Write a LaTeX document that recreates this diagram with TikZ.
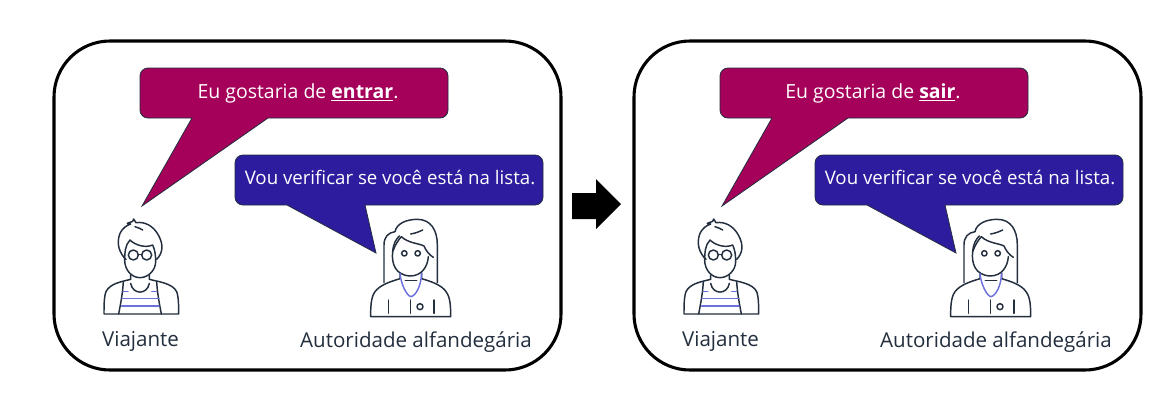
\documentclass[tikz,border=0pt]{standalone}
\usepackage{fontspec}
\setmainfont{Open Sans}
\definecolor{bubmag}{HTML}{A5005A}
\definecolor{bubblue}{HTML}{2D1C9E}
\definecolor{ink}{HTML}{232F3E}
\definecolor{stripe}{HTML}{6B70DC}
\newcommand{\ulbold}[1]{\vtop{\hbox{\bfseries #1}\kern1.1pt\hrule height 1.3pt}}
\tikzset{
  panel/.style={draw=black,line width=2.3pt,rounded corners=42pt},
  bubmagenta/.style={fill=bubmag,draw=ink,line width=0.6pt,line join=miter},
  bubindigo/.style={fill=bubblue,draw=ink,line width=0.6pt,line join=miter},
  asktext/.style={text=white,font=\fontsize{14.6pt}{17pt}\selectfont,inner sep=0pt,anchor=base},
  replytext/.style={text=white,font=\fontsize{14pt}{17pt}\selectfont,inner sep=0pt,anchor=base},
  caption/.style={text=ink,font=\fontsize{15.4pt}{18pt}\selectfont,inner sep=0pt,anchor=base},
  figline/.style={draw=ink,line width=1.1pt,line cap=round,line join=round},
  figblue/.style={draw=stripe,line width=1.1pt,line cap=round,line join=round},
}
\newcommand{\traveler}[2]{%
\begin{scope}[shift={(#1,#2)},x=0.25pt,y=-0.25pt]
 \draw[figline] (108,178) .. controls (88,160) and (78,130) .. (90,100) .. controls (97,85) and (110,76) .. (122,72) -- (112,70) -- (128,64) -- (131,57) -- (138,68) .. controls (165,64) and (190,78) .. (205,105) .. controls (222,135) and (218,160) .. (200,178);
 \draw[figline] (135,80) .. controls (145,83) and (152,86) .. (158,90);
 \draw[figline] (104,180) .. controls (104,160) and (105,135) .. (120,120) .. controls (135,135) and (165,145) .. (188,135) .. controls (195,150) and (197,165) .. (197,185);
 \draw[figline] (104,180) .. controls (104,210) and (125,233) .. (150,233) .. controls (175,233) and (197,210) .. (197,185);
 \draw[figline] (130,165) circle[radius=15];
 \draw[figline] (170,165) circle[radius=15];
 \draw[figline] (145,163) -- (155,163);
 \draw[figline] (122,225) -- (122,238) .. controls (95,245) and (60,250) .. (48,275) .. controls (42,290) and (42,320) .. (42,342) -- (266,342) .. controls (266,320) and (266,290) .. (260,275) .. controls (248,250) and (205,245) .. (178,238) -- (178,225);
 \draw[figline] (100,245) .. controls (98,280) and (92,310) .. (86,342);
 \draw[figline] (200,245) .. controls (202,280) and (208,310) .. (214,342);
 \draw[figline] (122,250) .. controls (128,285) and (172,285) .. (178,250);
 \draw[figblue] (99,275) -- (114,275) (185,275) -- (199,275) (96,296) -- (207,296) (95,318) -- (207,318);
\end{scope}}
\newcommand{\officer}[2]{%
\begin{scope}[shift={(#1,#2)},x=0.25pt,y=-0.25pt]
 \draw[figline] (72,218) -- (72,105) .. controls (72,80) and (85,68) .. (105,65) .. controls (110,40) and (140,28) .. (172,28) .. controls (212,28) and (232,60) .. (232,105) -- (232,218);
 \draw[figline] (152,72) .. controls (165,70) and (178,65) .. (188,60);
 \draw[figline] (118,78) .. controls (108,88) and (100,100) .. (98,125) .. controls (94,160) and (105,195) .. (150,198) .. controls (185,198) and (203,170) .. (205,140);
 \draw[figline] (98,125) .. controls (105,105) and (115,90) .. (124,80) .. controls (145,100) and (178,100) .. (192,108) .. controls (198,122) and (208,135) .. (220,142);
 \draw[figline] (133,130) circle[radius=8];
 \draw[figline] (173,130) circle[radius=8];
 \draw[figline] (120,188) -- (120,206) .. controls (90,215) and (60,225) .. (45,245) .. controls (32,262) and (32,295) .. (32,320) -- (272,320) .. controls (272,295) and (272,262) .. (258,245) .. controls (245,225) and (215,215) .. (185,206) -- (185,188);
 \draw[figblue] (120,190) .. controls (122,220) and (140,258) .. (153,260) .. controls (170,255) and (183,225) .. (185,190);
 \draw[figline] (136,212) -- (170,212);
 \draw[figline] (85,270) -- (85,310) (152,270) -- (152,310) (222,270) -- (222,310);
 \draw[figline] (180,290) circle[radius=9];
\end{scope}}
% #1 node prefix, #2 horizontal offset, #3 word, #4 centre of the request text
\newcommand{\scene}[4]{%
\begin{scope}[xshift=#2*0.75pt]
 \draw[panel] (54,41) rectangle (561,370);
 \draw[bubmagenta] [rounded corners=6pt] (268,118) [sharp corners] -- (142,206) -- (192,118) [rounded corners=6pt] -- (140,118) -- (140,68) -- (448,68) -- (448,118) [sharp corners] -- cycle;
 \draw[bubindigo] [rounded corners=6pt] (365,205) [sharp corners] -- (376,253) -- (287,205) [rounded corners=6pt] -- (235,205) -- (235,155) -- (543,155) -- (543,205) [sharp corners] -- cycle;
 \node[asktext] (#1ask) at (#4,98) {Eu gostaria de \ulbold{#3}.};
 \node[replytext] (#1reply) at (390,184) {Vou verificar se você está na lista.};
 \traveler{90}{200}
 \officer{360}{210}
 \node[caption] (#1trav) at (140.5,346) {Viajante};
 \node[caption] (#1auth) at (416,347) {Autoridade alfandegária};
\end{scope}}
\begin{document}
\begin{tikzpicture}[x=0.75pt,y=-0.75pt]
\useasboundingbox (0,0) rectangle (1160,412);
\fill[white] (0,0) rectangle (1160,412);
\scene{a}{0}{entrar}{298}
\scene{b}{580}{sair}{293}
\fill[black] (572,193) -- (596,193) -- (596,179) -- (621,204) -- (596,229) -- (596,219) -- (572,219) -- cycle;
\end{tikzpicture}
\end{document}
